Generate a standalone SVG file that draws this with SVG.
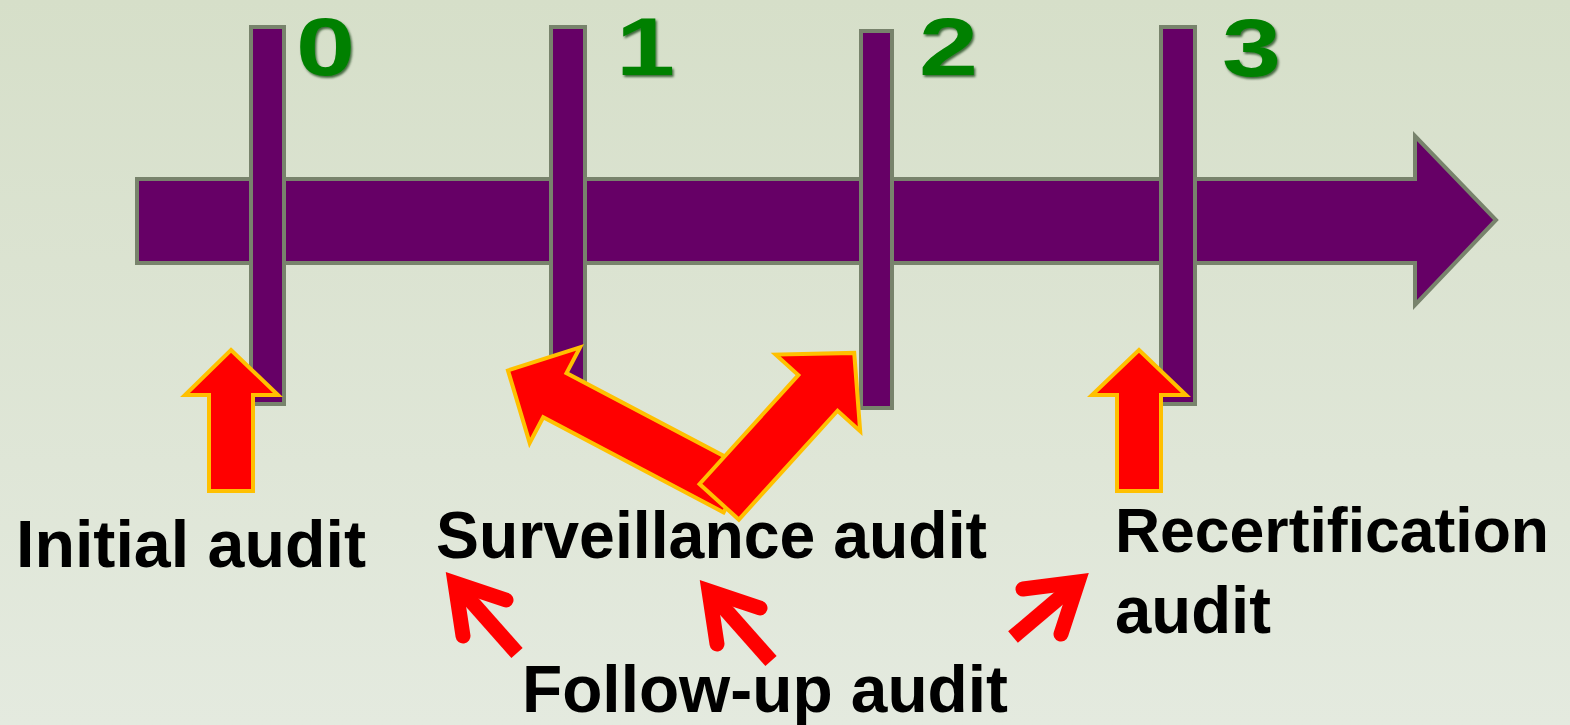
<svg xmlns="http://www.w3.org/2000/svg" width="1570" height="725" viewBox="0 0 1570 725">
<defs>
<linearGradient id="bg" x1="0" y1="0" x2="0" y2="1">
<stop offset="0" stop-color="#d6dfc9"/>
<stop offset="1" stop-color="#e4eadf"/>
</linearGradient>
<filter id="sh" filterUnits="userSpaceOnUse" x="0" y="0" width="1570" height="120">
<feDropShadow dx="1.5" dy="2" stdDeviation="1.2" flood-color="#003300" flood-opacity="0.7"/>
</filter>
<style>
.tl{fill:#660066;stroke:#78836c;stroke-width:4;stroke-linejoin:miter}
.big{fill:#ff0000;stroke:#ffc000;stroke-width:4;stroke-linejoin:miter}
.num{font-family:"Liberation Sans",Arial,sans-serif;font-weight:bold;font-size:82px;fill:#008000}
.lbl{font-family:"Liberation Sans",Arial,sans-serif;font-weight:bold;font-size:66px;fill:#000}
.lbl2{font-size:63px}
.fb{fill:none;stroke:#ff0000;stroke-width:15;stroke-linecap:round;stroke-linejoin:miter;stroke-miterlimit:10}
.fs{fill:none;stroke:#ff0000;stroke-width:15;stroke-linecap:butt}
</style>
</defs>
<rect width="1570" height="725" fill="url(#bg)"/>

<g id="timeline">
<polygon class="tl" points="137,179 1415,179 1415,136 1496,220 1415,305 1415,263 137,263"/>
</g>
<g id="tick0"><rect class="tl" x="251" y="27" width="33" height="377"/><text class="num" x="296" y="75" textLength="59" lengthAdjust="spacingAndGlyphs" filter="url(#sh)">0</text></g>
<g id="tick1"><rect class="tl" x="551" y="27" width="34" height="377"/><text class="num" x="616" y="75" textLength="59" lengthAdjust="spacingAndGlyphs" filter="url(#sh)">1</text></g>
<g id="tick2"><rect class="tl" x="861" y="31" width="31" height="377"/><text class="num" x="919" y="75" textLength="59" lengthAdjust="spacingAndGlyphs" filter="url(#sh)">2</text></g>
<g id="tick3"><rect class="tl" x="1161" y="27" width="34" height="377"/><text class="num" x="1222" y="76" textLength="59" lengthAdjust="spacingAndGlyphs" filter="url(#sh)">3</text></g>

<g id="arrow-initial"><polygon class="big" points="231,350 278,395 253,395 253,491 209,491 209,395 185,395"/></g>
<g id="arrow-surv-left"><polygon class="big" transform="translate(735.3,490.3) rotate(207.8)" points="0,-25 204,-25 204,-54 257,0 204,54 204,25 0,25"/></g>
<g id="arrow-surv-right"><polygon class="big" transform="translate(719.2,501.8) rotate(-47.8)" points="0,-26.5 147,-26.5 147,-57 201,0 147,57 147,26.5 0,26.5"/></g>
<g id="arrow-recert"><polygon class="big" points="1139,350 1186,395 1161,395 1161,491 1117,491 1117,395 1092,395"/></g>

<g id="label-initial"><text class="lbl" x="16" y="567" textLength="350" lengthAdjust="spacingAndGlyphs">Initial audit</text></g>
<g id="label-surveillance"><text class="lbl" x="436" y="558" textLength="551" lengthAdjust="spacingAndGlyphs">Surveillance audit</text></g>
<g id="label-recert">
<text class="lbl lbl2" x="1115" y="552" textLength="434" lengthAdjust="spacingAndGlyphs">Recertification</text>
<text class="lbl" x="1115" y="633" textLength="156" lengthAdjust="spacingAndGlyphs">audit</text>
</g>
<g id="label-followup"><text class="lbl" x="522" y="712" textLength="486" lengthAdjust="spacingAndGlyphs">Follow-up audit</text></g>

<g id="connectors">
<path class="fs" d="M455,583 L517,653"/>
<polyline class="fb" points="506,600 455,583 463,636"/>
<path class="fs" d="M709,591 L771,661"/>
<polyline class="fb" points="760,608 709,591 717,644"/>
<path class="fs" d="M1078,582 L1013,637"/>
<polyline class="fb" points="1023,589 1078,582 1061,634"/>
</g>
</svg>
